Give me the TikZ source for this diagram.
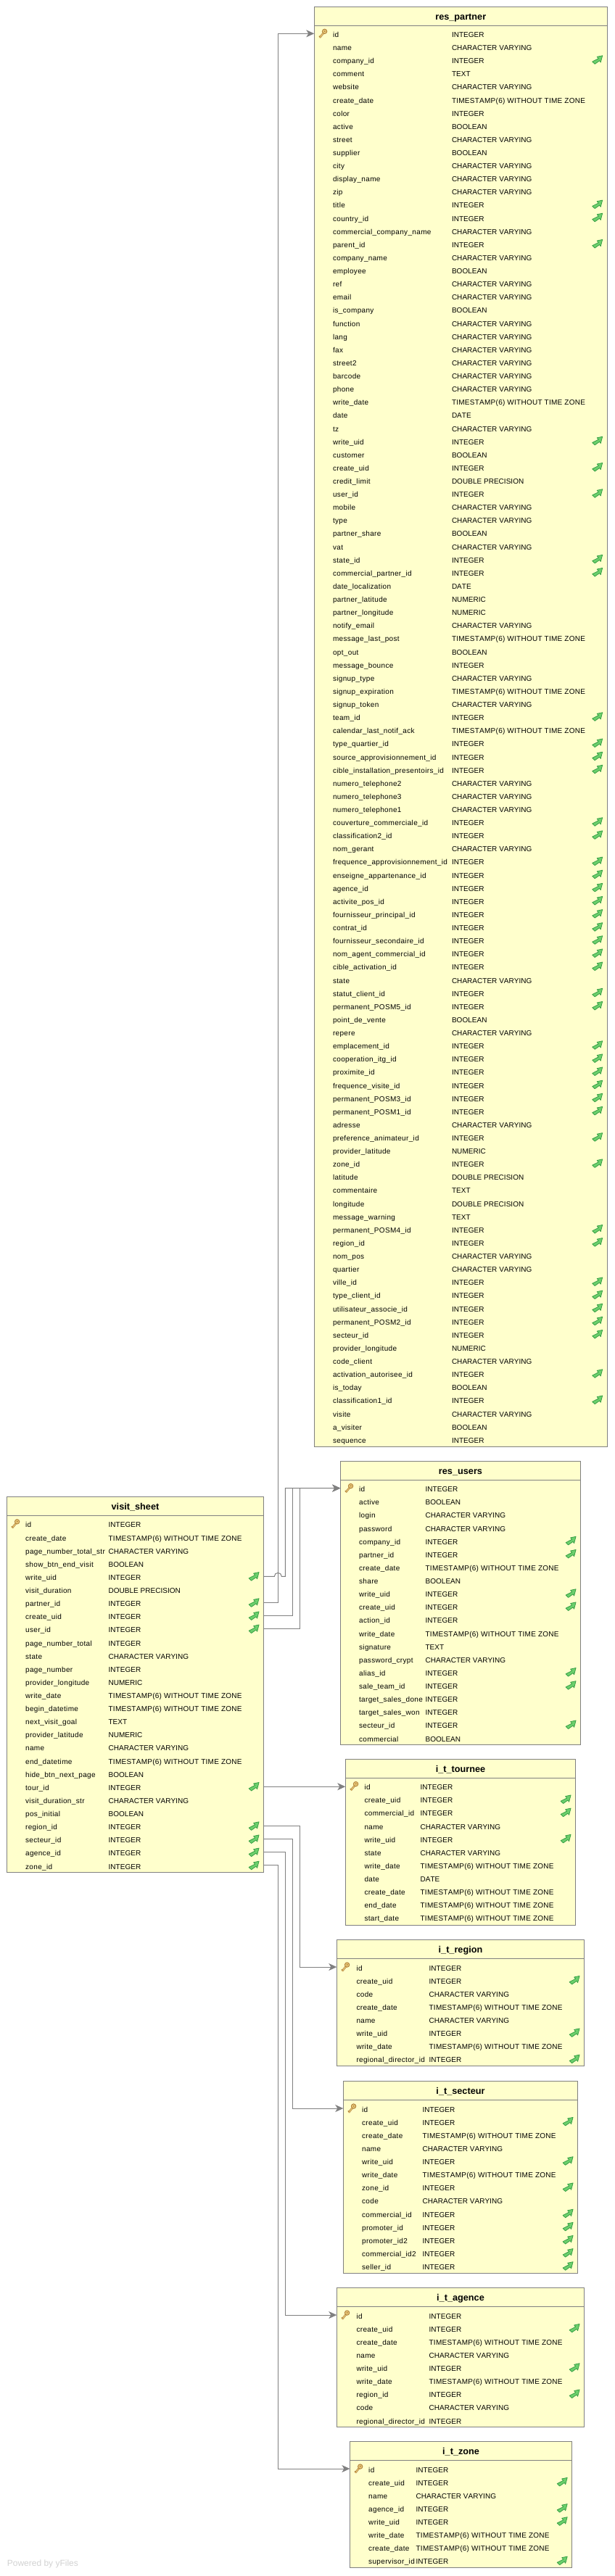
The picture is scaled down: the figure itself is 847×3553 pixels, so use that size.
\documentclass[tikz,border=0pt]{standalone}
\usepackage{fontspec}
\setmainfont{Liberation Sans}
\newfontfamily\namefont[LetterSpace=3.5]{Liberation Sans}
\newfontfamily\typefont[Kerning=Off,LetterSpace=0.3]{Liberation Sans}
\newfontfamily\stampfont[Kerning=Off,LetterSpace=2.6]{Liberation Sans}
\usetikzlibrary{arrows.meta}
\catcode`\_=12

\definecolor{tablefill}{HTML}{FFFFCC}
\definecolor{tableedge}{HTML}{808080}
\definecolor{keyfill}{HTML}{E8C878}
\definecolor{keyedge}{HTML}{B0803A}
\definecolor{fkfill}{HTML}{6CCF6C}
\definecolor{fkedge}{HTML}{2F9A3F}

\tikzset{
  tablebox/.style={draw=tableedge, line width=1pt, fill=tablefill, anchor=north west, inner sep=0pt, outer sep=0pt},
  tableline/.style={draw=tableedge, line width=1pt},
  tabletitle/.style={font=\fontsize{12.7}{14}\selectfont\bfseries, inner sep=0pt, text height=9pt, text depth=3pt},
  fieldname/.style={font=\fontsize{10}{12}\namefont, anchor=west, inner sep=0pt, text height=10.2pt, text depth=0pt},
  fieldtype/.style={font=\fontsize{10}{12}\typefont, anchor=west, inner sep=0pt, text height=10.2pt, text depth=0pt},
  relation/.style={draw=tableedge, line width=1pt},
  relationhead/.style={-{Stealth[length=11pt, width=10pt, inset=3pt]}},
  keyicon/.pic={
    \draw [line width=2.6pt, draw=keyedge]  (-4.2, 5.6) -- (2, -2);
    \draw [line width=1.2pt, draw=keyfill]  (-4.2, 5.6) -- (2, -2);
    \draw [line width=1pt, draw=keyedge]    (-3.6, 4.8) -- (-5.2, 3.4);
    \draw [fill=keyfill, draw=keyedge, line width=0.9pt] (2.6, -3) circle (3.2pt);
    \draw [fill=keyedge, draw=none] (2.8, -3.2) circle (1pt);
  },
  fkicon/.pic={
    \draw [fill=fkfill, draw=fkedge, line width=0.7pt, line join=round]
      (-7, 2.5) -- (1.5, -1.8) -- (-0.5, -4.2) -- (7, -5.8) -- (4.5, 3.5) -- (3, 1.2) -- (-3.5, 5.8) -- cycle;
  },
}

\newcommand{\tin}{INTEGER}
\newcommand{\tvc}{CHARACTER VARYING}
\newcommand{\tts}{\stampfont TIMESTAMP(6) WITHOUT TIME ZONE}
\newcommand{\tbo}{BOOLEAN}
\newcommand{\ttx}{TEXT}
\newcommand{\tda}{DATE}
\newcommand{\tnu}{NUMERIC}
\newcommand{\tdp}{DOUBLE PRECISION}

% name, title, left, top, width, height, name column, type column, rows
\newcommand{\dbtable}[9]{
  \node [tablebox, minimum width=#5pt, minimum height=#6pt] (#1) at (#3, #4) {};
  \node [tabletitle] (#1-title) at ([yshift=-15pt]#1.north) {#2};
  \draw [tableline] ([yshift=-26pt]#1.north west) -- ([yshift=-26pt]#1.north east);
  \pgfmathsetmacro\keyx{#3+11.7}
  \pgfmathsetmacro\iconx{#3+#5-13.6}
  \foreach [count=\i] \fname/\ftype/\fflag in {#9} {
    \pgfmathsetmacro\rowy{#4+37.3+(\i-1)*18.12}
    \node [fieldname] (#1-\fname) at (#7, \rowy) {\fname};
    \node [fieldtype] (#1-\fname-type) at (#8, \rowy) {\ftype};
    \ifnum\fflag=1 \pic at (\iconx, \rowy) {fkicon}; \fi
    \ifnum\fflag=2 \pic at (\keyx, \rowy) {keyicon}; \fi
  }
}

\begin{document}
\begin{tikzpicture}[x=1pt, y=-1pt]
    \useasboundingbox (0, 0) rectangle (847, 3553);
    % res_partner
    \dbtable{partner}{res_partner}{433.3}{9}{404}{1986}{458.8}{622.8}{
      id/\tin/2, name/\tvc/0, company_id/\tin/1, comment/\ttx/0, website/\tvc/0, create_date/\tts/0,
      color/\tin/0, active/\tbo/0, street/\tvc/0, supplier/\tbo/0, city/\tvc/0, display_name/\tvc/0,
      zip/\tvc/0, title/\tin/1, country_id/\tin/1, commercial_company_name/\tvc/0, parent_id/\tin/1,
      company_name/\tvc/0, employee/\tbo/0, ref/\tvc/0, email/\tvc/0, is_company/\tbo/0, function/\tvc/0,
      lang/\tvc/0, fax/\tvc/0, street2/\tvc/0, barcode/\tvc/0, phone/\tvc/0, write_date/\tts/0, date/\tda/0,
      tz/\tvc/0, write_uid/\tin/1, customer/\tbo/0, create_uid/\tin/1, credit_limit/\tdp/0, user_id/\tin/1,
      mobile/\tvc/0, type/\tvc/0, partner_share/\tbo/0, vat/\tvc/0, state_id/\tin/1,
      commercial_partner_id/\tin/1, date_localization/\tda/0, partner_latitude/\tnu/0,
      partner_longitude/\tnu/0, notify_email/\tvc/0, message_last_post/\tts/0, opt_out/\tbo/0,
      message_bounce/\tin/0, signup_type/\tvc/0, signup_expiration/\tts/0, signup_token/\tvc/0,
      team_id/\tin/1, calendar_last_notif_ack/\tts/0, type_quartier_id/\tin/1,
      source_approvisionnement_id/\tin/1, cible_installation_presentoirs_id/\tin/1,
      numero_telephone2/\tvc/0, numero_telephone3/\tvc/0, numero_telephone1/\tvc/0,
      couverture_commerciale_id/\tin/1, classification2_id/\tin/1, nom_gerant/\tvc/0,
      frequence_approvisionnement_id/\tin/1, enseigne_appartenance_id/\tin/1, agence_id/\tin/1,
      activite_pos_id/\tin/1, fournisseur_principal_id/\tin/1, contrat_id/\tin/1,
      fournisseur_secondaire_id/\tin/1, nom_agent_commercial_id/\tin/1, cible_activation_id/\tin/1,
      state/\tvc/0, statut_client_id/\tin/1, permanent_POSM5_id/\tin/1, point_de_vente/\tbo/0,
      repere/\tvc/0, emplacement_id/\tin/1, cooperation_itg_id/\tin/1, proximite_id/\tin/1,
      frequence_visite_id/\tin/1, permanent_POSM3_id/\tin/1, permanent_POSM1_id/\tin/1, adresse/\tvc/0,
      preference_animateur_id/\tin/1, provider_latitude/\tnu/0, zone_id/\tin/1, latitude/\tdp/0,
      commentaire/\ttx/0, longitude/\tdp/0, message_warning/\ttx/0, permanent_POSM4_id/\tin/1,
      region_id/\tin/1, nom_pos/\tvc/0, quartier/\tvc/0, ville_id/\tin/1, type_client_id/\tin/1,
      utilisateur_associe_id/\tin/1, permanent_POSM2_id/\tin/1, secteur_id/\tin/1,
      provider_longitude/\tnu/0, code_client/\tvc/0, activation_autorisee_id/\tin/1, is_today/\tbo/0,
      classification1_id/\tin/1, visite/\tvc/0, a_visiter/\tbo/0, sequence/\tin/0}
    % visit_sheet
    \dbtable{sheet}{visit_sheet}{9.3}{2064.5}{354.4}{517.8}{34.9}{149.4}{
      id/\tin/2, create_date/\tts/0, page_number_total_str/\tvc/0, show_btn_end_visit/\tbo/0,
      write_uid/\tin/1, visit_duration/\tdp/0, partner_id/\tin/1, create_uid/\tin/1, user_id/\tin/1,
      page_number_total/\tin/0, state/\tvc/0, page_number/\tin/0, provider_longitude/\tnu/0,
      write_date/\tts/0, begin_datetime/\tts/0, next_visit_goal/\ttx/0, provider_latitude/\tnu/0,
      name/\tvc/0, end_datetime/\tts/0, hide_btn_next_page/\tbo/0, tour_id/\tin/1,
      visit_duration_str/\tvc/0, pos_initial/\tbo/0, region_id/\tin/1, secteur_id/\tin/1,
      agence_id/\tin/1, zone_id/\tin/1}
    % res_users
    \dbtable{users}{res_users}{469.3}{2015.3}{331.4}{391}{494.9}{586.4}{
      id/\tin/2, active/\tbo/0, login/\tvc/0, password/\tvc/0, company_id/\tin/1, partner_id/\tin/1,
      create_date/\tts/0, share/\tbo/0, write_uid/\tin/1, create_uid/\tin/1, action_id/\tin/0,
      write_date/\tts/0, signature/\ttx/0, password_crypt/\tvc/0, alias_id/\tin/1, sale_team_id/\tin/1,
      target_sales_done/\tin/0, target_sales_won/\tin/0, secteur_id/\tin/1, commercial/\tbo/0}
    % i_t_tournee
    \dbtable{tournee}{i_t_tournee}{476.3}{2426.3}{317.4}{229}{502.3}{579.4}{
      id/\tin/2, create_uid/\tin/1, commercial_id/\tin/1, name/\tvc/0, write_uid/\tin/1, state/\tvc/0,
      write_date/\tts/0, date/\tda/0, create_date/\tts/0, end_date/\tts/0, start_date/\tts/0}
    % i_t_region
    \dbtable{region}{i_t_region}{464.3}{2675.7}{341.4}{173.6}{491.3}{591.4}{
      id/\tin/2, create_uid/\tin/1, code/\tvc/0, create_date/\tts/0, name/\tvc/0, write_uid/\tin/1,
      write_date/\tts/0, regional_director_id/\tin/1}
    % i_t_secteur
    \dbtable{secteur}{i_t_secteur}{473.3}{2870.7}{323.4}{264.6}{498.9}{582.4}{
      id/\tin/2, create_uid/\tin/1, create_date/\tts/0, name/\tvc/0, write_uid/\tin/1, write_date/\tts/0,
      zone_id/\tin/1, code/\tvc/0, commercial_id/\tin/1, promoter_id/\tin/1, promoter_id2/\tin/1,
      commercial_id2/\tin/1, seller_id/\tin/1}
    % i_t_agence
    \dbtable{agence}{i_t_agence}{464.3}{3155.7}{341.4}{191.6}{491.3}{591.4}{
      id/\tin/2, create_uid/\tin/1, create_date/\tts/0, name/\tvc/0, write_uid/\tin/1, write_date/\tts/0,
      region_id/\tin/1, code/\tvc/0, regional_director_id/\tin/0}
    % i_t_zone
    \dbtable{zone}{i_t_zone}{482.4}{3367.7}{306.4}{173.6}{508}{573.4}{
      id/\tin/2, create_uid/\tin/1, name/\tvc/0, agence_id/\tin/1, write_uid/\tin/1, write_date/\tts/0,
      create_date/\tts/0, supervisor_id/\tin/1}
    % vertical lanes of the relations
    \coordinate (lane1) at (383.3, 0);
    \coordinate (lane2) at (393.3, 0);
    \coordinate (lane3) at (403.3, 0);
    \coordinate (lane4) at (413.3, 0);
    % relations to res_partner and res_users
    \draw [relation, relationhead] (sheet.east |- sheet-partner_id.west) -- (lane1 |- sheet-partner_id.west) |- (partner.west |- partner-id.west);
    \draw [relation, relationhead] (sheet.east |- sheet-write_uid.west) -- ([xshift=-5pt]lane1 |- sheet-write_uid.west)
      arc [start angle=180, end angle=0, radius=5pt] -- (lane2 |- sheet-write_uid.west) |- (users.west |- users-id.west);
    \draw [relation, relationhead] (sheet.east |- sheet-create_uid.west) -- (lane3 |- sheet-create_uid.west) |- (users.west |- users-id.west);
    \draw [relation, relationhead] (sheet.east |- sheet-user_id.west) -- (lane4 |- sheet-user_id.west) |- (users.west |- users-id.west);
    % relation to i_t_tournee
    \draw [relation, relationhead] (sheet.east |- sheet-tour_id.west) -- (tournee.west |- sheet-tour_id.west);
    % relations to the other tables
    \draw [relation, relationhead] (sheet.east |- sheet-region_id.west) -- (lane4 |- sheet-region_id.west) |- (region.west |- region-id.west);
    \draw [relation, relationhead] (sheet.east |- sheet-secteur_id.west) -- (lane3 |- sheet-secteur_id.west) |- (secteur.west |- secteur-id.west);
    \draw [relation, relationhead] (sheet.east |- sheet-agence_id.west) -- (lane2 |- sheet-agence_id.west) |- (agence.west |- agence-id.west);
    \draw [relation, relationhead] (sheet.east |- sheet-zone_id.west) -- (lane1 |- sheet-zone_id.west) |- (zone.west |- zone-id.west);
    % footer
    \node [font=\fontsize{12}{14}\selectfont, text=black!18, anchor=west, inner sep=0pt] (poweredby) at (9.7, 3536.7) {Powered by yFiles};
\end{tikzpicture}
\end{document}
